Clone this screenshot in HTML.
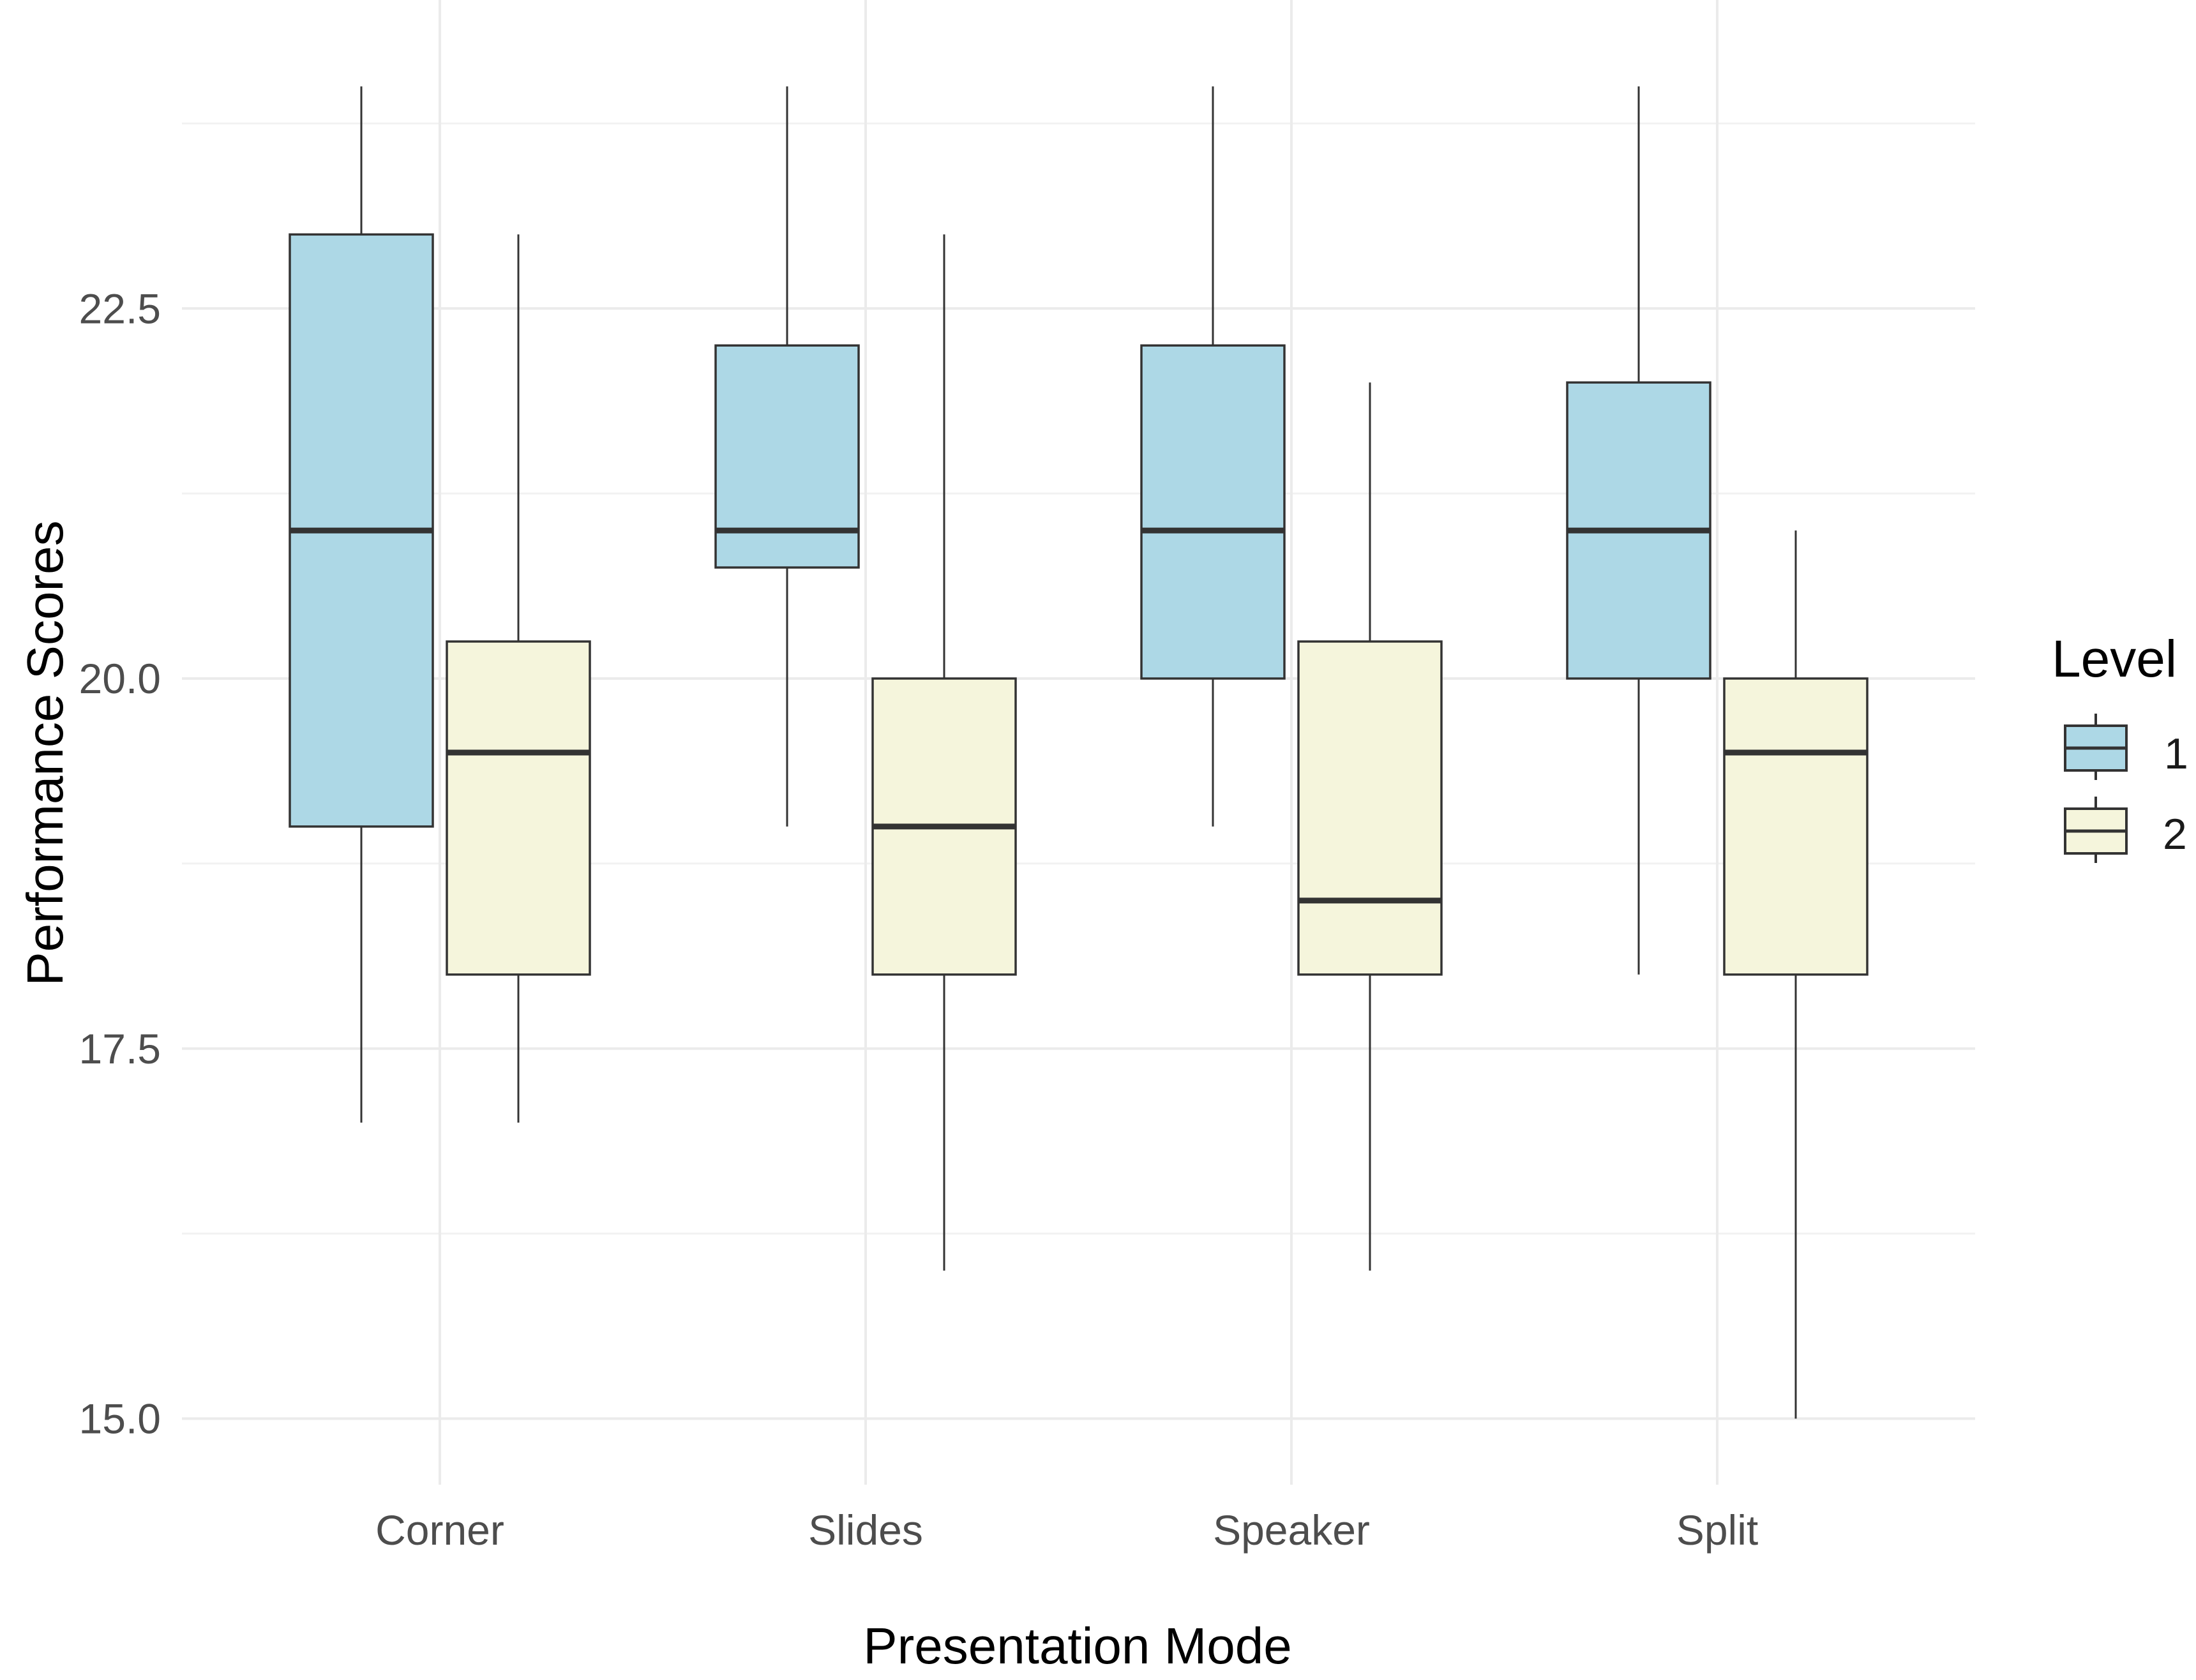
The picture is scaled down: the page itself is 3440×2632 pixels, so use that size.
<!DOCTYPE html>
<html><head><meta charset="utf-8"><style>
html,body{margin:0;padding:0;background:#fff;}
svg{display:block;font-family:"Liberation Sans",Arial,sans-serif;}
</style></head><body>
<svg id="chart" width="3440" height="2632" viewBox="0 0 3440 2632" xmlns="http://www.w3.org/2000/svg">
<rect x="0" y="0" width="3440" height="2632" fill="#fff"/>
<g id="grid"></g>
<g id="boxes"></g>
<g id="axes"></g>
<text x="0" y="0" transform="translate(98,1180) rotate(-90)" text-anchor="middle" font-size="80" fill="#000">Performance Scores</text>
<text x="1688" y="2606" text-anchor="middle" font-size="80" fill="#000">Presentation Mode</text>
<g>
<text x="3214" y="1060" font-size="82" fill="#000">Level</text>
<g>
<line x1="3283" y1="1118" x2="3283" y2="1222" stroke="#333" stroke-width="4"/>
<rect x="3235" y="1137" width="96" height="70" fill="#add8e6" stroke="#333" stroke-width="4"/>
<line x1="3235" y1="1172" x2="3331" y2="1172" stroke="#333" stroke-width="5"/>
<text x="3390" y="1204" font-size="68" fill="#1a1a1a">1</text>
</g>
<g>
<line x1="3283" y1="1248" x2="3283" y2="1352" stroke="#333" stroke-width="4"/>
<rect x="3235" y="1267" width="96" height="70" fill="#f5f5dc" stroke="#333" stroke-width="4"/>
<line x1="3235" y1="1302" x2="3331" y2="1302" stroke="#333" stroke-width="5"/>
<text x="3388" y="1330" font-size="68" fill="#1a1a1a">2</text>
</g>
</g>
</svg>
<script>
const categories = ["Corner","Slides","Speaker","Split"];
const l1Min = [17,19,19,18];
const l1Q1 = [19,20.75,20,20];
const l1Med = [21,21,21,21];
const l1Q3 = [23,22.25,22.25,22];
const l1Max = [24,24,24,24];
const l2Min = [17,16,16,15];
const l2Q1 = [18,18,18,18];
const l2Med = [19.5,19,18.5,19.5];
const l2Q3 = [20.25,20,20.25,20];
const l2Max = [23,23,22,21];
const yTicks = [15,17.5,20,22.5];
const yMinor = [16.25,18.75,21.25,23.75];

const NS="http://www.w3.org/2000/svg";
const plotL=285, plotR=3094, plotT=0, plotB=2326;
function y(v){ return 2222.5 - (v-15)*231.9; }
function x(i){ return 689 + i*667; }
function mk(tag, attrs, parent){ const e=document.createElementNS(NS,tag); for(const k in attrs) e.setAttribute(k,attrs[k]); parent.appendChild(e); return e; }
const grid=document.getElementById('grid'), boxes=document.getElementById('boxes'), axes=document.getElementById('axes');
yMinor.forEach(v=>{ const l=mk('line',{x1:plotL,x2:plotR,y1:y(v),y2:y(v),stroke:'#f2f2f2','stroke-width':3},grid);

 });
yTicks.forEach(v=>{ const l=mk('line',{x1:plotL,x2:plotR,y1:y(v),y2:y(v),stroke:'#ebebeb','stroke-width':4},grid);


const t=mk('text',{x:252,y:y(v)+23,'text-anchor':'end','font-size':66,fill:'#4d4d4d'},axes); t.textContent=v.toFixed(1);

 });
categories.forEach((c,i)=>{ const l=mk('line',{x1:x(i),x2:x(i),y1:plotT,y2:plotB,stroke:'#ebebeb','stroke-width':4},grid);


const t=mk('text',{x:x(i),y:2420,'text-anchor':'middle','font-size':66,fill:'#4d4d4d'},axes); t.textContent=c;

 });
const half=112, off=123;
function drawBox(cx,mn,q1,md,q3,mx,fill,name){
  const g=mk('g',{},boxes);
  
  
  mk('line',{x1:cx,x2:cx,y1:y(mx),y2:y(q3),stroke:'#333','stroke-width':3},g);
  mk('line',{x1:cx,x2:cx,y1:y(q1),y2:y(mn),stroke:'#333','stroke-width':3},g);
  mk('rect',{x:cx-half,y:y(q3),width:2*half,height:y(q1)-y(q3),fill:fill,stroke:'#333','stroke-width':3.5},g);
  mk('line',{x1:cx-half,x2:cx+half,y1:y(md),y2:y(md),stroke:'#333','stroke-width':9},g);
}
categories.forEach((c,i)=>{
  drawBox(x(i)-off,l1Min[i],l1Q1[i],l1Med[i],l1Q3[i],l1Max[i],'#add8e6','box-'+c.toLowerCase()+'-level1');
  drawBox(x(i)+off,l2Min[i],l2Q1[i],l2Med[i],l2Q3[i],l2Max[i],'#f5f5dc','box-'+c.toLowerCase()+'-level2');
});
</script>
</body></html>
